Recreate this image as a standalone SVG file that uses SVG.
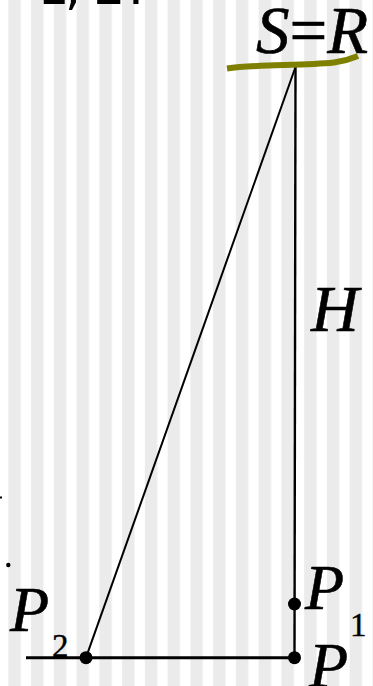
<svg xmlns="http://www.w3.org/2000/svg" width="373" height="686" viewBox="0 0 373 686">
<defs>
<pattern id="stripes" patternUnits="userSpaceOnUse" x="8.3" y="0" width="22.76" height="686">
<rect x="0" y="0" width="12.4" height="686" fill="#ebebeb"/>
</pattern>
</defs>
<style>
.lbl{font-family:"Liberation Serif","Times New Roman",serif;font-style:italic;font-size:64px;fill:#000;stroke:#000;stroke-width:0.6}
.up{font-style:normal}
.sub{font-family:"Liberation Serif","Times New Roman",serif;font-size:33px;fill:#000;stroke:#000;stroke-width:0.4}
.ln{stroke:#000;fill:none;stroke-linecap:butt}
.dot{fill:#000}
</style>
<rect width="373" height="686" fill="#fff"/>
<rect width="373" height="686" fill="url(#stripes)"/>
<text x="37.5 65 80 93.5 128" y="3.8" style="font-family:'DejaVu Sans',sans-serif;font-size:50px" fill="#000">1, 2.</text>
<rect x="0" y="496.5" width="2" height="2" fill="#000"/>
<circle cx="8.3" cy="565" r="2.2" fill="#000"/>
<g id="connectors">
<line class="ln" x1="295.5" y1="67" x2="294.5" y2="657.7" stroke-width="2.4"/>
<line class="ln" x1="295.5" y1="67" x2="86" y2="657.7" stroke-width="2"/>
<line class="ln" x1="26" y1="657.7" x2="294.5" y2="657.7" stroke-width="3"/>
</g>
<g id="node-SR">
<path d="M227,68.5 C258,64 300,66 334,62.5 Q346,61 358,56" stroke="#7f7f00" stroke-width="6" fill="none" stroke-linecap="butt"/>
<text class="lbl" x="256" y="53" style="font-size:67px">S<tspan class="up">=</tspan>R</text>
</g>
<g id="label-H">
<text class="lbl" x="311" y="331" style="font-size:66px">H</text>
</g>
<g id="node-P1">
<circle class="dot" cx="294.5" cy="604" r="6.5"/>
<text class="lbl" x="305" y="609">P</text>
<text class="sub" x="350" y="636">1</text>
</g>
<g id="node-P">
<circle class="dot" cx="294.5" cy="657.7" r="6.5"/>
<text class="lbl" x="309" y="687">P</text>
</g>
<g id="node-P2">
<circle class="dot" cx="86" cy="657.7" r="6.5"/>
<text class="lbl" x="10" y="631">P</text>
<text class="sub" x="52" y="657">2</text>
</g>
</svg>
